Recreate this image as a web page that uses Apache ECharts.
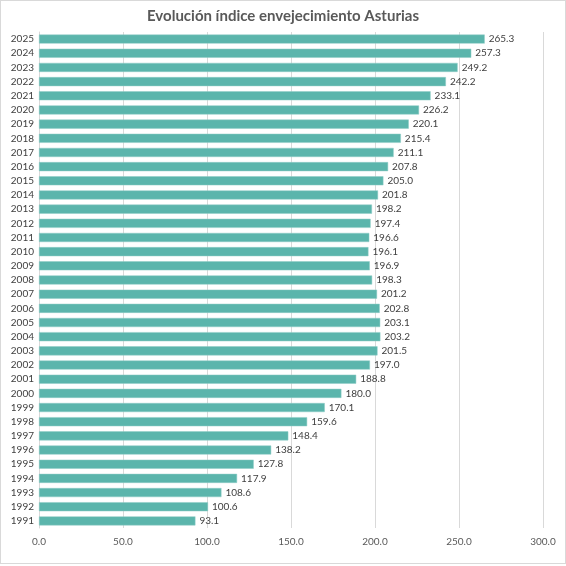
<!DOCTYPE html>
<html>
<head>
<meta charset="utf-8">
<script src="https://cdn.jsdelivr.net/npm/echarts@6/dist/echarts.min.js"></script>
<style>
html, body { margin: 0; padding: 0; background: #fff; }
#container { position: absolute; left: 0; top: 0; width: 564px; height: 562px; border: 1px solid #d9d9d9; }
</style>
</head>
<body>
<div id="container"></div>
<script>
var dom = document.getElementById('container');
var myChart = echarts.init(dom, null, { renderer: 'canvas' });

// años 1991..2025
const years = ['1991', '1992', '1993', '1994', '1995', '1996', '1997', '1998', '1999', '2000',
    '2001', '2002', '2003', '2004', '2005', '2006', '2007', '2008', '2009', '2010',
    '2011', '2012', '2013', '2014', '2015', '2016', '2017', '2018', '2019', '2020',
    '2021', '2022', '2023', '2024', '2025'];
const indice = [93.1, 100.6, 108.6, 117.9, 127.8, 138.2, 148.4, 159.6, 170.1, 180.0,
    188.8, 197.0, 201.5, 203.2, 203.1, 202.8, 201.2, 198.3, 196.9, 196.1,
    196.6, 197.4, 198.2, 201.8, 205.0, 207.8, 211.1, 215.4, 220.1, 226.2,
    233.1, 242.2, 249.2, 257.3, 265.3];

var option = {
    animation: false,
    textStyle: { fontFamily: 'Lato' },
    title: {
        text: 'Evolución índice envejecimiento Asturias',
        left: 'center',
        top: 3,
        textStyle: { fontSize: 15, fontWeight: 'bold', color: '#595959', fontFamily: 'Lato' }
    },
    grid: { left: 38, right: 22, top: 31, bottom: 35 },
    xAxis: {
        type: 'value',
        min: 0,
        max: 300,
        interval: 50,
        axisLabel: {
            color: '#595959',
            fontSize: 10,
            margin: 9,
            formatter: (v) => v.toFixed(1)
        },
        axisLine: { show: false },
        axisTick: { show: false },
        splitLine: { lineStyle: { color: '#d9d9d9', width: 1 } }
    },
    yAxis: {
        type: 'category',
        data: years,
        axisLabel: { color: '#404040', fontSize: 10, margin: 5 },
        axisLine: { lineStyle: { color: '#d9d9d9' } },
        axisTick: { show: false }
    },
    series: [
        {
            type: 'bar',
            data: indice,
            barCategoryGap: '36%',
            itemStyle: { color: '#5bb5ac', borderColor: '#8fcdc6', borderWidth: 0.5 },
            label: {
                show: true,
                position: 'right',
                distance: 4,
                color: '#404040',
                fontSize: 10,
                formatter: (p) => p.value.toFixed(1)
            }
        }
    ]
};

myChart.setOption(option);
window.addEventListener('resize', myChart.resize);
</script>
</body>
</html>
